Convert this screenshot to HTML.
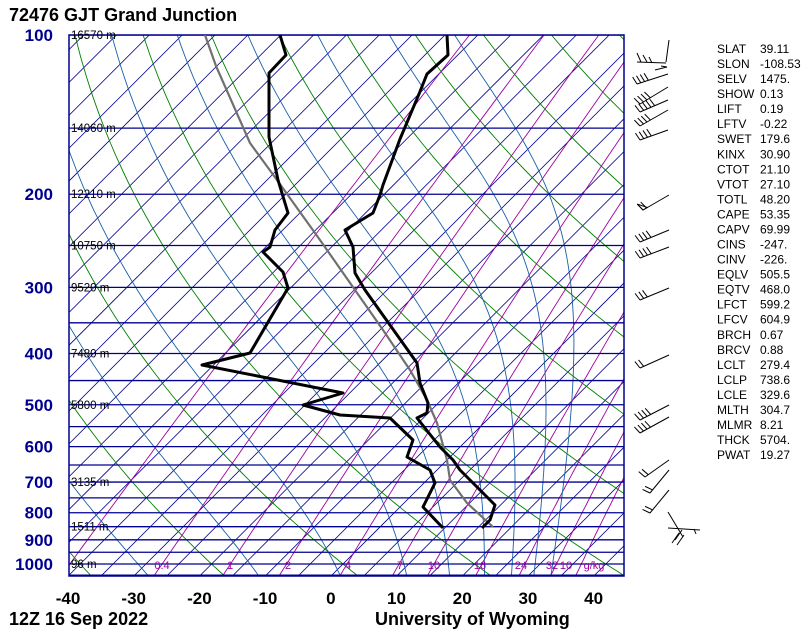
<!DOCTYPE html>
<html><head><meta charset="utf-8">
<style>
html,body{margin:0;padding:0;background:#fff;}
body{width:810px;height:642px;overflow:hidden;position:relative;font-family:"Liberation Sans",sans-serif;}
.t{position:absolute;white-space:nowrap;}
</style></head>
<body>
<svg id="s" width="810" height="642" viewBox="0 0 810 642" xmlns="http://www.w3.org/2000/svg" style="position:absolute;left:0;top:0">
<defs><clipPath id="c"><rect x="69" y="35" width="555" height="541"/></clipPath></defs>
<g id="grid" clip-path="url(#c)"></g>
<g id="fr"></g>
<g id="snd" clip-path="url(#c)" fill="none" stroke-linejoin="round">
<polyline stroke="#707070" stroke-width="2.2" points="205,35 216,66 250,143 277,180 320,240 355,290 383,330 410,370 427,400 437,423 447,460 450,480 467,503 493,527"/>
<polyline stroke="#000" stroke-width="3" points="447,35 448,55 427,74 419,94 400,139 383,185 380,195 373,213 345,230 353,247 355,273 365,290 417,363 420,383 428,403 427,413 417,418 440,447 453,460 460,470 495,505 490,520 482,528"/>
<polyline stroke="#000" stroke-width="3" points="280,35 286,55 269,73 269,137 278,180 288,213 275,230 270,247 263,252 283,272 288,288 250,353 202,365 343,393 303,405 340,415 390,418 413,440 407,457 430,470 435,483 423,507 443,528"/>
</g>
<g id="barbs" stroke="#000" stroke-width="1" fill="none"></g>
<g id="txt"></g>
</svg>
<div class="t" style="left:9px;top:5px;font-size:18px;font-weight:bold;">72476 GJT Grand Junction</div>
<div class="t" style="left:9px;top:609px;font-size:18px;font-weight:bold;">12Z 16 Sep 2022</div>
<div class="t" style="left:375px;top:609px;font-size:18px;font-weight:bold;">University of Wyoming</div>
<script>
(function(){
var NS="http://www.w3.org/2000/svg";
function el(par,tag,at,txt){var e=document.createElementNS(NS,tag);for(var k in at)e.setAttribute(k,at[k]);if(txt!==undefined)e.textContent=txt;par.appendChild(e);return e;}
function Y(p){return 35+529*Math.log10(p/100);}
function X(T,p){return 331+6.57*T+(576-Y(p));}
var g=document.getElementById('grid');
var pts=function(a){return a.map(function(q){return q[0].toFixed(1)+","+q[1].toFixed(1)}).join(" ");};
for(var T=-170;T<=45;T+=5){
  el(g,'line',{x1:X(T,1060),y1:Y(1060),x2:X(T,95),y2:Y(95),stroke:'#000090','stroke-width':0.8});
}
for(var th=233.15;th<=480;th+=20){
  var a=[];for(var p=1060;p>=95;p-=10){var Tk=th*Math.pow(p/1000,0.2857);a.push([X(Tk-273.15,p),Y(p)]);}
  el(g,'polyline',{points:pts(a),fill:'none',stroke:'#008000','stroke-width':0.9});
}
var ws=[0.1,0.4,1,2,4,7,10,16,24,32,40];
function tdw(w,p){var e=w*p/(622+w);var l=Math.log(e/6.112);return 243.5*l/(17.67-l);}
ws.forEach(function(w){var a=[];for(var p=1060;p>=95;p-=10){a.push([X(tdw(w,p),p),Y(p)]);}
  el(g,'polyline',{points:pts(a),fill:'none',stroke:'#a000a0','stroke-width':0.9});});
function es(Tc){return 6.112*Math.exp(17.67*Tc/(Tc+243.5));}
[-27.7,-10.9,1.5,11.6,18.1,23.4,27.5,30.9,33.5].forEach(function(T0){
  var Tk=T0+273.15,p=1055,a=[[X(T0,p),Y(p)]];
  while(p>100){var Tc=Tk-273.15,e=es(Tc),rs=0.622*e/(p-e);
    var d=(287*Tk+2.5e6*rs)/(p*(1004+2.5e6*2.5e6*rs*0.622/(287*Tk*Tk)));
    Tk-=d*5;p-=5;a.push([X(Tk-273.15,p),Y(p)]);}
  el(g,'polyline',{points:pts(a),fill:'none',stroke:'#1860a8','stroke-width':0.9});
});
for(var p=100;p<=1050;p+=50){el(g,'line',{x1:69,y1:Y(p),x2:624,y2:Y(p),stroke:'#000090','stroke-width':1.3});}
el(document.getElementById('fr'),'rect',{x:69,y:35,width:555,height:541,fill:'none',stroke:'#000090','stroke-width':1.5});
var t=document.getElementById('txt');
[[100,'16570 m'],[150,'14060 m'],[200,'12210 m'],[250,'10750 m'],[300,'9520 m'],[400,'7480 m'],[500,'5800 m'],[700,'3135 m'],[850,'1511 m'],[1000,'96 m']].forEach(function(h){
  el(t,'text',{x:71,y:Y(h[0])+4,'font-size':11.5,'font-family':'Liberation Sans, sans-serif',fill:'#000'},h[1]);});
[['0.4',162],['1',230],['2',288],['4',348],['7',400],['10',434],['16',480],['24',521],['32',552],['10',566],['g/kg',594]].forEach(function(m){
  el(t,'text',{x:m[1],y:569,'font-size':11,'text-anchor':'middle','font-family':'Liberation Sans, sans-serif',fill:'#a000a0'},m[0]);});
[100,200,300,400,500,600,700,800,900,1000].forEach(function(p){
  el(t,'text',{x:53,y:Y(p)+6,'font-size':17,'font-weight':'bold','text-anchor':'end','font-family':'Liberation Sans, sans-serif',fill:'#000090'},String(p));});
for(var T=-40;T<=40;T+=10){el(t,'text',{x:68+(T+40)*6.57,y:604,'font-size':17,'font-weight':'bold','text-anchor':'middle','font-family':'Liberation Sans, sans-serif',fill:'#000'},String(T));}
var st=[['SLAT','39.11'],['SLON','-108.53'],['SELV','1475.'],['SHOW','0.13'],['LIFT','0.19'],['LFTV','-0.22'],['SWET','179.6'],['KINX','30.90'],['CTOT','21.10'],['VTOT','27.10'],['TOTL','48.20'],['CAPE','53.35'],['CAPV','69.99'],['CINS','-247.'],['CINV','-226.'],['EQLV','505.5'],['EQTV','468.0'],['LFCT','599.2'],['LFCV','604.9'],['BRCH','0.67'],['BRCV','0.88'],['LCLT','279.4'],['LCLP','738.6'],['LCLE','329.6'],['MLTH','304.7'],['MLMR','8.21'],['THCK','5704.'],['PWAT','19.27']];
st.forEach(function(s,i){var y=53+i*15.04;
  el(t,'text',{x:717,y:y,'font-size':12,'font-family':'Liberation Sans, sans-serif',fill:'#000'},s[0]);
  el(t,'text',{x:760,y:y,'font-size':12,'font-family':'Liberation Sans, sans-serif',fill:'#000'},s[1]);});
var b=document.getElementById('barbs');
function barb(x1,y1,x2,y2,n,flag){
  el(b,'line',{x1:x1,y1:y1,x2:x2,y2:y2});
  var dx=x2-x1,dy=y2-y1,L=Math.hypot(dx,dy),ux=dx/L,uy=dy/L;
  var px=-uy,py=ux; if(py>0){px=-px;py=-py;}
  for(var i=0;i<n;i++){var bx=x2-ux*4*i,by=y2-uy*4*i;
    el(b,'line',{x1:bx,y1:by,x2:bx+px*8+ux*2,y2:by+py*8+uy*2});}
  if(flag){el(b,'polygon',{points:x2+','+y2+' '+(x2+px*8+ux*2)+','+(y2+py*8+uy*2)+' '+(x2-ux*5)+','+(y2-uy*5),fill:'none'});}
}
el(b,'line',{x1:669,y1:40,x2:666,y2:62});el(b,'line',{x1:637,y1:62,x2:666,y2:63});
el(b,'line',{x1:637,y1:53,x2:641,y2:62});el(b,'line',{x1:643,y1:55,x2:647,y2:62});el(b,'line',{x1:649,y1:57,x2:652,y2:63});
el(b,'line',{x1:655,y1:70,x2:667,y2:67});el(b,'line',{x1:661,y1:66,x2:667,y2:67});
barb(668,74,637,84,4);barb(668,87,640,104,4);barb(668,100,640,112,5);barb(668,110,640,126,4);barb(668,130,640,140,4);
barb(669,195,643,210,2,true);barb(669,230,640,242,4);barb(669,247,640,258,4);barb(669,288,640,300,3);barb(669,355,640,368,2);
barb(669,405,640,420,4);barb(669,417,640,433,4);barb(669,460,645,477,2);barb(669,470,650,493,2);barb(669,490,650,513,2);
el(b,'line',{x1:668,y1:512,x2:683,y2:537});el(b,'line',{x1:668,y1:528,x2:700,y2:530});
el(b,'line',{x1:694,y1:529,x2:696,y2:534});
el(b,'line',{x1:682,y1:530,x2:675,y2:540});el(b,'line',{x1:679,y1:533,x2:672,y2:543});el(b,'line',{x1:684,y1:535,x2:677,y2:545});
})();
</script>
</body></html>
